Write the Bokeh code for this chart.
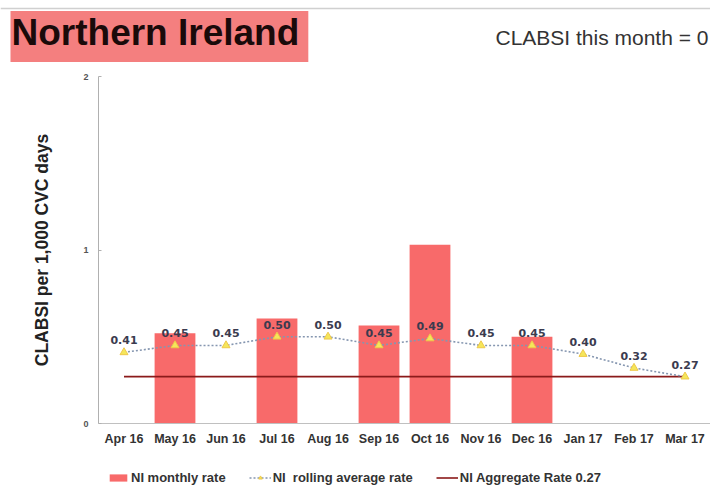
from bokeh.plotting import figure
from bokeh.layouts import column
from bokeh.models import (ColumnDataSource, FactorRange, Range1d, Label, LabelSet,
                          Legend, LegendItem, FixedTicker, Span)
from bokeh.core.properties import value
from bokeh.embed import file_html
from bokeh.resources import INLINE

months = ["Apr 16", "May 16", "Jun 16", "Jul 16", "Aug 16", "Sep 16",
          "Oct 16", "Nov 16", "Dec 16", "Jan 17", "Feb 17", "Mar 17"]
monthly_rate = [0, 0.52, 0, 0.605, 0, 0.565, 1.03, 0, 0.50, 0, 0, 0]
rolling_avg = [0.41, 0.45, 0.45, 0.50, 0.50, 0.45, 0.49, 0.45, 0.45, 0.40, 0.32, 0.27]
rolling_labels = ["0.41", "0.45", "0.45", "0.50", "0.50", "0.45",
                  "0.49", "0.45", "0.45", "0.40", "0.32", "0.27"]
aggregate_rate = 0.27
y_ticks = [0, 1, 2]

FONT = "Liberation Sans"
LABFONT = "DejaVu Sans"

BAR_COLOR = "#f86a6a"
AGG_COLOR = "#8b1a1a"
AVG_LINE = "#8596b0"
AVG_FILL = "#f5e65a"
AVG_EDGE = "#eec84a"

src = ColumnDataSource(dict(month=months, rate=monthly_rate, avg=rolling_avg,
                            lab=rolling_labels, agg=[aggregate_rate] * len(months)))


def blank(fig):
    fig.xgrid.grid_line_color = None
    fig.ygrid.grid_line_color = None
    fig.outline_line_color = None
    fig.background_fill_color = "white"
    fig.border_fill_color = "white"
    try:
        fig.frame_align = False
    except Exception:
        pass


# ---------------- header ----------------
header = figure(width=710, height=70, x_range=Range1d(0, 710), y_range=Range1d(0, 70),
                x_axis_type=None, y_axis_type=None,
                output_backend="svg", toolbar_location=None,
                min_border=0, min_border_left=0, min_border_right=0,
                min_border_top=0, min_border_bottom=0)
blank(header)
header.add_layout(Span(location=62, dimension="width", line_color="#d0d0d0", line_width=1.5))
header.add_layout(Label(x=10, y=34, x_units="screen", y_units="screen",
                        text="Northern Ireland", text_font=FONT, text_font_style="bold",
                        text_font_size="37px", text_color="#1a0a0a",
                        text_baseline="middle",
                        background_fill_color="#f47f7f", padding=(1, 9, 1, 9)))
header.add_layout(Label(x=708, y=33, x_units="screen", y_units="screen",
                        text="CLABSI this month = 0", text_font=FONT,
                        text_font_size="21px", text_color="#333333",
                        text_baseline="middle", text_align="right"))

# ---------------- main chart ----------------
p = figure(width=710, height=390, x_range=FactorRange(*months), y_range=Range1d(0, 2),
           output_backend="svg", toolbar_location=None,
           min_border_left=98, min_border_right=0, min_border_top=6, min_border_bottom=37)
blank(p)
p.x_range.range_padding = 0

bars = p.vbar(x="month", top="rate", width=0.8, source=src,
              fill_color=BAR_COLOR, line_color=None)
agg = p.line(x="month", y="agg", source=src, line_color=AGG_COLOR, line_width=1.6)
avg_line = p.line(x="month", y="avg", source=src, line_color=AVG_LINE,
                  line_width=1.6, line_dash="2 2")
avg_pts = p.scatter(x="month", y="avg", source=src, marker="triangle", size=8,
                    fill_color=AVG_FILL, line_color=AVG_EDGE, line_width=1)

labels = LabelSet(x="month", y="avg", text="lab", source=src, y_offset=8,
                  text_align="center", text_baseline="bottom",
                  text_font=value(LABFONT), text_font_style="bold",
                  text_font_size="11px", text_color="#3b3b4f")
p.add_layout(labels)

p.yaxis.ticker = FixedTicker(ticks=y_ticks)
p.yaxis.axis_label = "CLABSI per 1,000 CVC days"
p.yaxis.axis_label_text_font = FONT
p.yaxis.axis_label_text_font_style = "bold"
p.yaxis.axis_label_text_font_size = "17.5px"
p.yaxis.axis_label_text_color = "#222222"
p.yaxis.axis_label_standoff = 28
p.yaxis.major_label_text_font = FONT
p.yaxis.major_label_text_font_style = "bold"
p.yaxis.major_label_text_font_size = "9px"
p.yaxis.major_label_text_color = "#555555"
p.yaxis.major_label_standoff = 10
p.yaxis.axis_line_color = "#b0b0b0"
p.yaxis.major_tick_line_color = "#b0b0b0"
p.yaxis.major_tick_in = 3
p.yaxis.major_tick_out = 0
p.yaxis.minor_tick_line_color = None

p.xaxis.axis_line_color = "#c0c0c0"
p.xaxis.major_tick_line_color = None
p.xaxis.minor_tick_line_color = None
p.xaxis.major_label_text_font = FONT
p.xaxis.major_label_text_font_style = "bold"
p.xaxis.major_label_text_font_size = "12.5px"
p.xaxis.major_label_text_color = "#333333"
p.xaxis.major_label_standoff = 2

# ---------------- footer legend (proxies drawn outside their visible range) ----------------
footer = figure(width=710, height=37, x_range=FactorRange(*months), y_range=Range1d(10, 11),
                x_axis_type=None, y_axis_type=None,
                output_backend="svg", toolbar_location=None,
                min_border=0, min_border_left=0, min_border_right=0,
                min_border_top=0, min_border_bottom=0)
blank(footer)
lg_bar = footer.vbar(x="month", top="rate", width=0.8, source=src,
                     fill_color=BAR_COLOR, line_color=None)
lg_avg_line = footer.line(x="month", y="avg", source=src, line_color=AVG_LINE,
                          line_width=1.6, line_dash="2 2")
lg_avg_pts = footer.scatter(x="month", y="avg", source=src, marker="triangle", size=8,
                            fill_color=AVG_FILL, line_color=AVG_EDGE, line_width=1)
lg_agg = footer.line(x="month", y="agg", source=src, line_color=AGG_COLOR, line_width=1.6)

legend = Legend(items=[
    LegendItem(label="NI monthly rate", renderers=[lg_bar]),
    LegendItem(label="NI  rolling average rate", renderers=[lg_avg_line, lg_avg_pts]),
    LegendItem(label="NI Aggregate Rate 0.27", renderers=[lg_agg]),
], orientation="horizontal", location=(107, 11), padding=0, margin=0, spacing=23,
    glyph_width=22, glyph_height=9, label_standoff=2, label_height=18,
    label_text_font=FONT, label_text_font_style="bold", label_text_font_size="13px",
    label_text_color="#333333", border_line_color=None, background_fill_alpha=0)
footer.add_layout(legend)

layout = column(header, p, footer, spacing=0)
open("out.html", "w").write(file_html(layout, INLINE))
